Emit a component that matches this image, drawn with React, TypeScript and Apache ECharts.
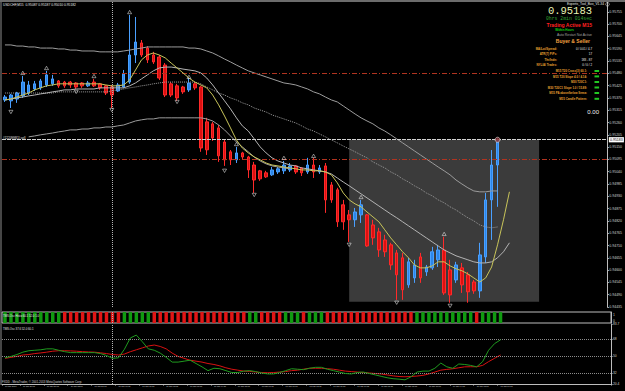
import React, { useEffect, useRef } from 'react';
import * as echarts from 'echarts';

// ---- price candles: [open, close, low, high] (USDCHF M15, 16 Jan 19:30 .. 17 Jan 16:15)
const candles: number[][] = [
  [0.95361, 0.95374, 0.95352, 0.95383], [0.95357, 0.95383, 0.95325, 0.95388], [0.95365, 0.95392, 0.95348, 0.95397],
  [0.95379, 0.95441, 0.9537, 0.95468], [0.95392, 0.95428, 0.95383, 0.95446], [0.9541, 0.95433, 0.95401, 0.95446],
  [0.95415, 0.95446, 0.95406, 0.95455], [0.95428, 0.95473, 0.95419, 0.95491], [0.95433, 0.95455, 0.95424, 0.95473],
  [0.95446, 0.95424, 0.95415, 0.9545], [0.95441, 0.95424, 0.95415, 0.95446], [0.95441, 0.95428, 0.95415, 0.95446],
  [0.95437, 0.95419, 0.9541, 0.95441], [0.95437, 0.95424, 0.95415, 0.95441], [0.95424, 0.95437, 0.95419, 0.95446],
  [0.95441, 0.95424, 0.95419, 0.95455], [0.95433, 0.95415, 0.95406, 0.95437], [0.95424, 0.95392, 0.95383, 0.95428],
  [0.95419, 0.95383, 0.95325, 0.95428], [0.95401, 0.95428, 0.95397, 0.95437], [0.95419, 0.95477, 0.95415, 0.95495],
  [0.95441, 0.95562, 0.95433, 0.95741], [0.95562, 0.9562, 0.95526, 0.95732], [0.95616, 0.95562, 0.95553, 0.95629],
  [0.95593, 0.9554, 0.95526, 0.95602], [0.95562, 0.95531, 0.95522, 0.95576], [0.95553, 0.95459, 0.9545, 0.95562],
  [0.95517, 0.95383, 0.95374, 0.95526], [0.95433, 0.95383, 0.95374, 0.95441], [0.95424, 0.9537, 0.95357, 0.95433],
  [0.95419, 0.95397, 0.95388, 0.95424], [0.95406, 0.95437, 0.95397, 0.95459], [0.95433, 0.95415, 0.95406, 0.95441],
  [0.95419, 0.95146, 0.95129, 0.95424], [0.95263, 0.95138, 0.95115, 0.95281], [0.95254, 0.95191, 0.95178, 0.95263],
  [0.95236, 0.95111, 0.95084, 0.95249], [0.95173, 0.95093, 0.95066, 0.95182], [0.95129, 0.95093, 0.9507, 0.95137],
  [0.95093, 0.95124, 0.95079, 0.95151], [0.95124, 0.95106, 0.95097, 0.95129], [0.95106, 0.95048, 0.95012, 0.95111],
  [0.9507, 0.95003, 0.94945, 0.95084], [0.95044, 0.95008, 0.94999, 0.95048], [0.95035, 0.95017, 0.95012, 0.95044],
  [0.95026, 0.95048, 0.95021, 0.95061], [0.95039, 0.95053, 0.9503, 0.95061], [0.95044, 0.9507, 0.9503, 0.95088],
  [0.95048, 0.95066, 0.95039, 0.95079], [0.95066, 0.95039, 0.9503, 0.9507], [0.95057, 0.95035, 0.95021, 0.95061],
  [0.95039, 0.9507, 0.9503, 0.95102], [0.9507, 0.95039, 0.95012, 0.95102], [0.95039, 0.95057, 0.9503, 0.9507],
  [0.95066, 0.94914, 0.94856, 0.95079], [0.94981, 0.94914, 0.94901, 0.94994], [0.94959, 0.94816, 0.94793, 0.94968],
  [0.94892, 0.94816, 0.9478, 0.94914], [0.94847, 0.94825, 0.94726, 0.94869], [0.94825, 0.9486, 0.94793, 0.94878],
  [0.94847, 0.94892, 0.94811, 0.94914], [0.94847, 0.94708, 0.94704, 0.94851], [0.94802, 0.94744, 0.94713, 0.94825],
  [0.94771, 0.9469, 0.94659, 0.94789], [0.94735, 0.94682, 0.94659, 0.94758], [0.94713, 0.94623, 0.94601, 0.94722],
  [0.94677, 0.94579, 0.94467, 0.9469], [0.94655, 0.94512, 0.94467, 0.94677], [0.94534, 0.94637, 0.94521, 0.94655],
  [0.94565, 0.94623, 0.94543, 0.94646], [0.94659, 0.94565, 0.94543, 0.94677], [0.94592, 0.94614, 0.94574, 0.94623],
  [0.9461, 0.94682, 0.94601, 0.94704], [0.94646, 0.9469, 0.94614, 0.94713], [0.9469, 0.94498, 0.94489, 0.94749],
  [0.94601, 0.94489, 0.94454, 0.94646], [0.94556, 0.94623, 0.94543, 0.94637], [0.9461, 0.94534, 0.94498, 0.94632],
  [0.94579, 0.94503, 0.94454, 0.94592], [0.94547, 0.94507, 0.94494, 0.94556], [0.94507, 0.94668, 0.94476, 0.94722],
  [0.94659, 0.94914, 0.94632, 0.94945], [0.94914, 0.9507, 0.94735, 0.95137], [0.9507, 0.95183, 0.94883, 0.9519],
];

// ---- moving averages drawn on the price chart
const maYellow = [
  0.95361, 0.95365, 0.95374, 0.95383, 0.95392, 0.95406, 0.95415, 0.95424, 0.95428, 0.95433,
  0.95433, 0.95433, 0.95433, 0.95433, 0.95433, 0.95433, 0.95433, 0.95428, 0.95424, 0.95424,
  0.95428, 0.9545, 0.95495, 0.9554, 0.95562, 0.95571, 0.95562, 0.95549, 0.95526, 0.95504,
  0.95482, 0.95459, 0.95441, 0.95428, 0.95415, 0.95383, 0.95339, 0.95289, 0.95236, 0.95182,
  0.95146, 0.95124, 0.95106, 0.95093, 0.95079, 0.9507, 0.95066, 0.95061, 0.95057, 0.95053,
  0.95048, 0.95048, 0.95044, 0.95044, 0.95039, 0.95026, 0.9499, 0.94945, 0.94914, 0.94896,
  0.94883, 0.9486, 0.94838, 0.94816, 0.9478, 0.94744, 0.94713, 0.94682, 0.94655, 0.94623,
  0.9461, 0.9461, 0.94619, 0.94637, 0.94637, 0.94619, 0.94606, 0.94597, 0.94583, 0.94565,
  0.94547, 0.94565, 0.94614, 0.94713, 0.94825, 0.9495,
];
const maGrayMid = [
  0.95361, 0.95365, 0.9537, 0.95374, 0.95379, 0.95383, 0.95388, 0.95392, 0.95397, 0.95401,
  0.95406, 0.95406, 0.9541, 0.9541, 0.9541, 0.9541, 0.95415, 0.95415, 0.95415, 0.95415,
  0.95415, 0.95424, 0.95437, 0.95455, 0.95473, 0.95491, 0.95504, 0.95508, 0.95508, 0.95504,
  0.95499, 0.95495, 0.95491, 0.95482, 0.95459, 0.95428, 0.95392, 0.95357, 0.95321, 0.95281,
  0.95245, 0.95222, 0.95187, 0.95151, 0.95124, 0.95102, 0.95088, 0.95079, 0.9507, 0.95066,
  0.95057, 0.95053, 0.95048, 0.95044, 0.95039, 0.9503, 0.95012, 0.94994, 0.94977, 0.94959,
  0.94941, 0.94923, 0.94905, 0.94887, 0.94869, 0.94851, 0.94834, 0.94816, 0.94798, 0.9478,
  0.94762, 0.94744, 0.94726, 0.94708, 0.9469, 0.94677, 0.94664, 0.94655, 0.94646, 0.94637,
  0.94632, 0.94632, 0.94637, 0.94655, 0.94682, 0.94722,
];
const maGrayDotted = [
  0.95392, 0.95392, 0.95392, 0.95392, 0.95392, 0.95392, 0.95392, 0.95392, 0.95392, 0.95397,
  0.95397, 0.95397, 0.95397, 0.95397, 0.95397, 0.95397, 0.95397, 0.95397, 0.95401, 0.95406,
  0.9541, 0.95415, 0.95419, 0.95424, 0.95428, 0.95433, 0.95437, 0.95441, 0.95441, 0.95441,
  0.95441, 0.95441, 0.95441, 0.95433, 0.95419, 0.95406, 0.95392, 0.95383, 0.9537, 0.95361,
  0.95348, 0.95339, 0.95325, 0.95316, 0.95307, 0.95294, 0.95285, 0.95276, 0.95267, 0.95258,
  0.95245, 0.95231, 0.95222, 0.95209, 0.95196, 0.95182, 0.95169, 0.95155, 0.95142, 0.95129,
  0.95115, 0.95102, 0.95084, 0.9507, 0.95057, 0.95039, 0.95026, 0.95008, 0.94994, 0.94977,
  0.94963, 0.94945, 0.94932, 0.94914, 0.94901, 0.94883, 0.94869, 0.94851, 0.94834, 0.9482,
  0.94802, 0.94793, 0.94789, 0.94793,
];
const maGrayUpper = [
  0.95607, 0.95607, 0.95602, 0.95602, 0.95598, 0.95598, 0.95593, 0.95593, 0.95593, 0.95589,
  0.95589, 0.95584, 0.95584, 0.9558, 0.9558, 0.9558, 0.95576, 0.95576, 0.95576, 0.95576,
  0.9558, 0.95584, 0.95589, 0.95593, 0.95598, 0.95598, 0.95598, 0.95598, 0.95598, 0.95598,
  0.95598, 0.95593, 0.95593, 0.95589, 0.9558, 0.95571, 0.95558, 0.95544, 0.95531, 0.95517,
  0.95504, 0.95491, 0.95482, 0.95473, 0.95464, 0.95455, 0.95446, 0.95437, 0.95433, 0.95428,
  0.95419, 0.9541, 0.95397, 0.95388, 0.95374, 0.95361, 0.95352, 0.95334, 0.95316, 0.95298,
  0.95281, 0.95267, 0.95254, 0.95236, 0.95222, 0.95205, 0.95187, 0.95169, 0.95151, 0.95133,
  0.95115, 0.95097, 0.95079, 0.95061, 0.95044, 0.95026, 0.95003, 0.94985, 0.94968, 0.94954,
  0.9495, 0.9495, 0.94954, 0.94954,
];
const maGrayLower = [
  null, null, null, null, 0.95196, 0.952, 0.95205, 0.95209, 0.95213, 0.95218,
  0.95222, 0.95227, 0.95227, 0.95231, 0.95231, 0.95236, 0.95236, 0.9524, 0.9524, 0.95245,
  0.95249, 0.95258, 0.95267, 0.95272, 0.95276, 0.95276, 0.95281, 0.95281, 0.95281, 0.95281,
  0.95281, 0.95281, 0.95281, 0.95281, 0.95276, 0.95267, 0.95249, 0.95227, 0.952, 0.95173,
  0.95151, 0.95129, 0.95106, 0.95088, 0.95075, 0.95066, 0.95061, 0.95057, 0.95053,
];

// ---- oscillator (lower panel)
const oscGreen = [
  48, 49.5, 51.5, 54, 55.5, 56, 56.5, 57.5, 57.5, 56, 54.5, 53.5, 53.5, 53.5, 53.5, 53.5, 52.5, 50.5, 47.5, 48,
  57, 69, 72, 65, 57.5, 56, 53, 48.5, 43.5, 43.5, 44.5, 45.5, 42, 38.5, 34.5, 37, 36.5, 34.5, 32.5, 32.5,
  34, 34.5, 33.5, 32, 31, 31, 32.5, 34.5, 36.5, 36, 35.5, 37, 38, 38, 36, 34.5, 33, 31.5, 31, 32.5,
  33, 31.5, 30, 28.5, 27, 26, 25.5, 24.8, 28, 33, 34, 34, 37, 42.5, 38.5, 37, 41.5, 41, 40, 38.5,
  44, 56, 63, 67,
];
const oscRed = [
  47.5, 48.5, 49.5, 51, 51.5, 52.5, 53.2, 54, 55, 55.5, 55.5, 55.3, 55, 54.5, 54.2, 54, 53.3, 52.5, 51.5, 51,
  52, 54.5, 56.5, 58.5, 60.5, 61.5, 60, 57.5, 53, 49.5, 47.5, 45.5, 44.5, 43.5, 42, 41, 39.5, 37.5, 36, 35,
  34, 33.7, 33, 32.5, 32.3, 32.5, 33, 33.5, 34.5, 35, 36, 37, 37, 37, 36.5, 36, 35, 34, 33.5, 33,
  32.5, 32, 31.5, 31, 30, 29, 28.3, 28, 28.3, 28.8, 29.5, 31, 33, 35, 35.8, 36.5, 37.5, 38.5, 38.6, 38.6,
  40, 44, 47.5, 51,
];
const oscLevels = [68, 50, 32];
const oscAxisLabels = [20.4, 32, 50, 68, 83.7];

// ---- histogram strip state per bar (G = green, R = red)
const histoState =
  'GGGGGGGGGG' + 'RRRRRRRRRR' + 'GGGGG' + 'RRRRRRRRRRRRRRRR' + 'GG' + 'RRRR' + 'GGG' + 'R' + 'GGG' +
  'RRRRRRRRRRRRRRR' + 'GGGGGGGGGG' + 'R' + 'GGGG';

// ---- fractal arrows [barIndex, price]
const fractalUp = [[3, 0.95482], [7, 0.95504], [15, 0.95468], [21, 0.95754], [31, 0.95464], [39, 0.95164],
  [47, 0.95102], [52, 0.95111], [60, 0.94927], [74, 0.94762]];
const fractalDown = [[1, 0.95307], [12, 0.95397], [18, 0.95316], [29, 0.95352], [37, 0.95044], [42, 0.94936],
  [58, 0.94713], [66, 0.94454], [75, 0.9444]];

// ---- levels and objects
const bidPrice = 0.95183;
const redLevels = [0.95482, 0.95096];
const boxBars = [58, 90];
const boxPrices = [0.95183, 0.94458];
const separatorBar = 18;
const priceMin = 0.94435;
const priceMax = 0.95799;
const priceStep = 0.00055;

// ---- time axis
const totalSlots = 102;
const timeTicks: [number, string][] = [
  [0, '16 Jan 2013'], [3, '16 Jan 20:15'], [7, '16 Jan 21:15'], [11, '16 Jan 22:15'], [15, '16 Jan 23:15'],
  [19, '17 Jan 00:15'], [23, '17 Jan 01:15'], [27, '17 Jan 02:15'], [31, '17 Jan 03:15'], [35, '17 Jan 04:15'],
  [39, '17 Jan 05:15'], [43, '17 Jan 06:15'], [47, '17 Jan 07:15'], [51, '17 Jan 08:15'], [55, '17 Jan 09:15'],
  [59, '17 Jan 10:15'], [63, '17 Jan 11:15'], [67, '17 Jan 12:15'], [71, '17 Jan 13:15'], [75, '17 Jan 14:15'],
  [79, '17 Jan 15:15'], [83, '17 Jan 16:15'],
];

// ---- info panel texts
const infoRows = [
  ['MA/Lot/Spread:', '0 / 0.01 / 4.7'],
  ['ATR(7) PiPs:', '17'],
  ['Thr/Indn:', '183 - 87'],
  ['NYL/Al Trades:', '0 / 0 / 2'],
];
const signalRows = [
  'M15 T20 Cross(3) 60.1:',
  'M15 T20 Slope 4.0 / 4.14:',
  'M30 T20C1:',
  'M30 T20C1 Slope 1.0 / 15.89:',
  'M15 PA above/below Sema:',
  'M15 Candle Pattern:',
];

const FONT = 'Liberation Sans';
const MONO = 'Liberation Mono';

function pad(n: number) { return n < 10 ? '0' + n : '' + n; }
const categories = Array.from({ length: totalSlots }, (_, i) => {
  const t = new Date(Date.UTC(2013, 0, 16, 19, 30) + i * 15 * 60000);
  return `${t.getUTCDate()} Jan ${pad(t.getUTCHours())}:${pad(t.getUTCMinutes())}`;
});
const tickMap = new Map<number, string>(timeTicks);

function txt(text: string, x: number, y: number, fill: string, fontSize: number, o: any = {}) {
  return {
    type: 'text', x, y, silent: true, z: 20,
    style: {
      text, fill, fontSize, fontFamily: o.family || FONT, fontWeight: o.bold ? 'bold' : 'normal',
      align: o.align || 'left', verticalAlign: 'middle',
    },
  };
}

function buildOption(): any {
  const sepLine = (color: string) => ({
    silent: true, symbol: ['none', 'none'], animation: false,
    label: { show: false },
    lineStyle: { color, type: 'dotted', width: 1 },
    data: [{ xAxis: categories[separatorBar] }],
  });

  const graphics: any[] = [
    { type: 'rect', z: 20, silent: true, shape: { x: 0, y: 0, width: 625, height: 2 }, style: { fill: '#6c6c6c' } },
    { type: 'line', z: 20, silent: true, shape: { x1: 1, y1: 2, x2: 1, y2: 385 }, style: { stroke: '#8c8c8c', lineWidth: 1 } },
    txt('USDCHF,M15  0.95087 0.95187 0.95010 0.95182', 3, 5, '#e6e6e6', 3.3),
    txt('Experts_Tool_Box_V1.34', 604, 4.3, '#e6e6e6', 3.3, { align: 'right' }),
    { type: 'circle', z: 20, silent: true, shape: { cx: 607.5, cy: 4.3, r: 1.8 }, style: { fill: 'none', stroke: '#dddddd', lineWidth: 0.6 } },
    txt('0.95183', 592, 11.4, '#e8f3b4', 10.5, { align: 'right', family: MONO }),
    txt('0hrs 2min 014sec', 592, 18.7, '#2f9e2f', 4.8, { align: 'right', family: MONO }),
    txt('Trading Active M15', 592, 24.7, '#ff2020', 5, { align: 'right', bold: true }),
    txt('Within Hours', 574, 29.4, '#12d212', 3, { align: 'right', bold: true }),
    txt('Auto Restart Not Active', 592, 35, '#a0a0a0', 3.4, { align: 'right' }),
    txt('Buyer & Seller', 590, 41.3, '#f4a040', 5, { align: 'right', bold: true }),
    txt('0.00', 599, 112.4, '#f0f0f0', 6, { align: 'right' }),
    txt('TMS-Osc Histo 60.1 52.0 1.0', 3, 315.4, '#eeeeee', 2.8),
    txt('TMS-Osc 37.6 52.0 60.1', 3, 328.4, '#e6e6e6', 2.8),
    txt('FXDD - MetaTrader, © 2001-2013 MetaQuotes Software Corp.', 2, 381.2, '#d6d6d6', 2.9),
  ];
  const infoY = [48.4, 53.6, 59.3, 65];
  infoRows.forEach(([label, value], k) => {
    graphics.push(txt(label, 557, infoY[k], '#e8a232', 2.9, { align: 'right', bold: true }));
    graphics.push(txt(value, 592, infoY[k], '#f2f2f2', 2.9, { align: 'right' }));
  });
  const sigY = [71, 76.4, 82, 87.5, 93, 98.8];
  signalRows.forEach((label, k) => {
    graphics.push(txt(label, 587, sigY[k], '#e8a232', 2.9, { align: 'right', bold: true }));
    graphics.push({ type: 'rect', z: 20, silent: true, shape: { x: 594.5, y: sigY[k] - 1, width: 4.6, height: 2 }, style: { fill: '#22c822' } });
  });

  const upperDot = 'path://M0,8 L5,0 L10,8 Z';
  const downDot = 'path://M0,0 L5,8 L10,0 Z';
  const RED_LEVEL = '#b03420';
  const BID = '#d2d2d2';

  return {
    animation: false,
    backgroundColor: '#000000',
    textStyle: { fontFamily: FONT },
    grid: [
      { left: 2, right: 14, top: 2, height: 305 },
      { left: 2, right: 14, top: 312, height: 11, show: true, borderColor: '#bdbdbd', borderWidth: 1 },
      { left: 2, right: 14, top: 324, height: 60 },
    ],
    xAxis: [0, 1, 2].map((g) => ({
      type: 'category', gridIndex: g, data: categories, boundaryGap: true,
      axisLine: { show: g === 2, lineStyle: { color: '#bdbdbd' } },
      axisTick: g === 2 ? { show: true, length: 1.5, interval: (i: number) => tickMap.has(i), lineStyle: { color: '#bdbdbd' } } : { show: false },
      axisLabel: g === 2 ? {
        show: true, interval: (i: number) => tickMap.has(i), formatter: (_v: string, i: number) => tickMap.get(i) || '',
        align: 'left', fontSize: 2.1, color: '#d6d6d6', margin: 1.5,
      } : { show: false },
      splitLine: { show: false },
    })),
    yAxis: [
      {
        type: 'value', gridIndex: 0, position: 'right', min: priceMin, max: priceMax, interval: priceStep,
        axisLine: { show: true, lineStyle: { color: '#bdbdbd' } },
        axisTick: { show: true, length: 1.5, lineStyle: { color: '#bdbdbd' } },
        axisLabel: { fontSize: 3.5, color: '#d2d2d2', margin: 2, showMaxLabel: false, formatter: (v: number) => v.toFixed(5) },
        splitLine: { show: false },
      },
      {
        type: 'value', gridIndex: 1, position: 'right', min: 0, max: 1,
        axisLine: { show: true, lineStyle: { color: '#bdbdbd' } },
        axisTick: { show: false },
        axisLabel: { fontSize: 3.3, color: '#d2d2d2', margin: 2, customValues: [0.2, 0.76], formatter: (v: number) => (v > 0.5 ? '1' : '0') },
        splitLine: { show: false },
      },
      {
        type: 'value', gridIndex: 2, position: 'right', min: 20.4, max: 83.7,
        axisLine: { show: true, lineStyle: { color: '#bdbdbd' } },
        axisTick: { show: true, length: 1.5, customValues: oscAxisLabels, lineStyle: { color: '#bdbdbd' } },
        axisLabel: { fontSize: 3.3, color: '#d2d2d2', margin: 2, customValues: oscAxisLabels, formatter: (v: number) => String(v) },
        splitLine: { show: false },
      },
    ],
    graphic: graphics,
    series: [
      {
        type: 'candlestick', xAxisIndex: 0, yAxisIndex: 0, data: candles, barWidth: '52%', z: 3,
        itemStyle: { color: '#2b86ea', color0: '#dd1010', borderColor: '#4aa0ff', borderColor0: '#ff2a2a', borderWidth: 1 },
        markArea: {
          silent: true, itemStyle: { color: '#3b3b3b' },
          data: [[{ xAxis: categories[boxBars[0]], yAxis: boxPrices[0] }, { xAxis: categories[boxBars[1]], yAxis: boxPrices[1] }]],
        },
      },
      // helper series that only carries the red level lines (its own colour is the fallback colour)
      {
        name: 'levels', type: 'line', xAxisIndex: 0, yAxisIndex: 0, data: [], symbol: 'none', z: 4,
        color: RED_LEVEL, itemStyle: { color: RED_LEVEL }, lineStyle: { color: RED_LEVEL, width: 1 },
        markLine: {
          silent: true, symbol: ['none', 'none'], animation: false, precision: 5,
          lineStyle: { color: RED_LEVEL, type: [5, 2, 1, 2], width: 1 },
          data: redLevels.map((p) => ({ yAxis: p, label: { show: false }, lineStyle: { color: RED_LEVEL, type: [5, 2, 1, 2], width: 1 } })),
        },
      },
      // helper series that only carries the bid / order line and the day separator
      {
        name: 'bid', type: 'line', xAxisIndex: 0, yAxisIndex: 0, data: [], symbol: 'none', z: 4,
        color: BID, itemStyle: { color: BID }, lineStyle: { color: BID, width: 1 },
        markLine: {
          silent: true, symbol: ['none', 'none'], animation: false, precision: 5,
          lineStyle: { color: BID, type: [4, 1], width: 1 },
          data: [
            {
              yAxis: bidPrice,
              label: { show: true, position: 'end', distance: 1.5, formatter: bidPrice.toFixed(5), backgroundColor: '#ffffff', color: '#000', fontSize: 3.5, padding: [0.6, 1.2] },
            },
            {
              yAxis: bidPrice,
              label: { show: true, position: 'insideStartTop', distance: 1, formatter: '#1220998(1) sell', color: '#e0e0e0', fontSize: 3 },
            },
            { xAxis: categories[separatorBar], label: { show: false }, lineStyle: { color: '#b4b4b4', type: 'dotted', width: 1 } },
          ],
        },
      },
      { type: 'line', xAxisIndex: 0, yAxisIndex: 0, data: maGrayUpper, symbol: 'none', z: 4, lineStyle: { color: '#9c9c9c', width: 1 } },
      { type: 'line', xAxisIndex: 0, yAxisIndex: 0, data: maGrayLower, symbol: 'none', z: 4, connectNulls: false, lineStyle: { color: '#9c9c9c', width: 1 } },
      { type: 'line', xAxisIndex: 0, yAxisIndex: 0, data: maGrayDotted, symbol: 'none', z: 4, lineStyle: { color: '#9a9a9a', width: 1, type: 'dotted' } },
      { type: 'line', xAxisIndex: 0, yAxisIndex: 0, data: maGrayMid, symbol: 'none', z: 4, lineStyle: { color: '#b4b4b4', width: 1 } },
      { type: 'line', xAxisIndex: 0, yAxisIndex: 0, data: maYellow, symbol: 'none', z: 5, lineStyle: { color: '#c8c45a', width: 1 } },
      {
        type: 'scatter', xAxisIndex: 0, yAxisIndex: 0, data: fractalUp, symbol: upperDot, symbolSize: [4, 3.4], z: 6,
        itemStyle: { color: 'transparent', borderColor: '#e8e8e8', borderWidth: 0.7 },
      },
      {
        type: 'scatter', xAxisIndex: 0, yAxisIndex: 0, data: fractalDown, symbol: downDot, symbolSize: [4, 3.4], z: 6,
        itemStyle: { color: 'transparent', borderColor: '#e8e8e8', borderWidth: 0.7 },
      },
      {
        type: 'scatter', xAxisIndex: 0, yAxisIndex: 0, data: [[candles.length - 1, bidPrice]], symbol: 'circle', symbolSize: 5, z: 7,
        itemStyle: { color: '#8a2a2a', borderColor: '#e0e0e0', borderWidth: 0.8 },
      },
      {
        type: 'bar', xAxisIndex: 1, yAxisIndex: 1, barWidth: '58%', z: 3,
        data: histoState.split('').map((c) => ({ value: 1, itemStyle: { color: c === 'G' ? '#119a11' : '#e01616' } })),
        markLine: sepLine('#b4b4b4'),
      },
      {
        type: 'line', xAxisIndex: 2, yAxisIndex: 2, data: oscRed, symbol: 'none', z: 4, lineStyle: { color: '#d81212', width: 1 },
        markLine: {
          silent: true, symbol: ['none', 'none'], animation: false, label: { show: false }, precision: 2,
          data: [
            ...oscLevels.map((v) => ({ yAxis: v, lineStyle: { color: '#8c8c8c', type: 'dotted', width: 1 } })),
            { xAxis: categories[separatorBar], lineStyle: { color: '#b4b4b4', type: 'dotted', width: 1 } },
          ],
        },
      },
      { type: 'line', xAxisIndex: 2, yAxisIndex: 2, data: oscGreen, symbol: 'none', z: 5, lineStyle: { color: '#1f9a1f', width: 1 } },
    ],
  };
}

export default function App() {
  const ref = useRef<HTMLDivElement>(null);
  useEffect(() => {
    document.body.style.margin = '0';
    document.body.style.background = '#000';
    const chart = echarts.init(ref.current!, null, { renderer: 'svg' });
    chart.setOption(buildOption());
    return () => chart.dispose();
  }, []);
  return <div ref={ref} style={{ width: 625, height: 391 }} />;
}
